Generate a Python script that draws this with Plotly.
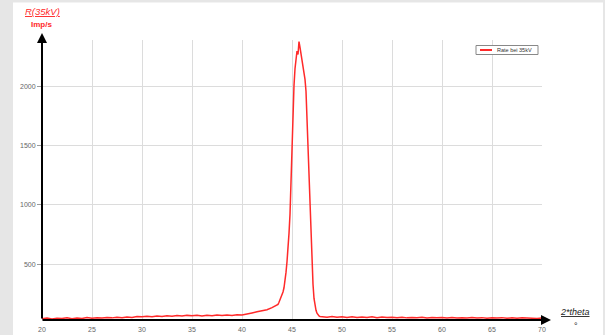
import plotly.graph_objects as go

# ---- data ----
angle_left = [20.0, 20.5, 21.0, 21.5, 22.0, 22.5, 23.0, 23.5, 24.0, 24.5, 25.0, 25.5,
              26.0, 26.5, 27.0, 27.5, 28.0, 28.5, 29.0, 29.5, 30.0, 30.5, 31.0, 31.5,
              32.0, 32.5, 33.0, 33.5, 34.0, 34.5, 35.0, 35.5, 36.0, 36.5, 37.0, 37.5,
              38.0, 38.5, 39.0, 39.5, 40.0, 40.5, 41.0, 41.5, 42.0, 42.5, 43.0, 43.5]
rate_left = [38, 44, 36, 42, 40, 46, 39, 45, 41, 48, 43, 47,
             44, 50, 46, 52, 48, 54, 50, 57, 55, 60, 56, 62,
             58, 64, 60, 66, 61, 67, 63, 68, 62, 69, 64, 70,
             66, 71, 67, 72, 70, 82, 88, 97, 104, 115, 132, 150]

angle_peak = [43.6, 43.7, 43.8, 43.9, 44.0, 44.1, 44.2, 44.3, 44.4, 44.5, 44.6, 44.7,
              44.8, 44.9, 45.0, 45.1, 45.2, 45.3, 45.4, 45.5, 45.6, 45.7, 45.8, 45.9,
              46.0, 46.1, 46.2, 46.3, 46.4, 46.5, 46.6, 46.7, 46.8, 46.9, 47.0, 47.1,
              47.2, 47.3, 47.4, 47.5, 47.6, 47.7, 47.8]
rate_peak = [160, 178, 200, 215, 240, 265, 300, 350, 430, 520, 620, 760,
             920, 1180, 1550, 1850, 2010, 2150, 2260, 2300, 2270, 2380, 2330, 2270,
             2220, 2180, 2130, 2060, 1960, 1700, 1440, 1240, 1020, 820, 560, 330,
             210, 150, 110, 85, 70, 62, 58]

angle_right = [48.0, 48.5, 49.0, 49.5, 50.0, 50.5, 51.0, 51.5, 52.0, 52.5, 53.0, 53.5,
               54.0, 54.5, 55.0, 55.5, 56.0, 56.5, 57.0, 57.5, 58.0, 58.5, 59.0, 59.5,
               60.0, 60.5, 61.0, 61.5, 62.0, 62.5, 63.0, 63.5, 64.0, 64.5, 65.0, 65.5,
               66.0, 66.5, 67.0, 67.5, 68.0, 68.5, 69.0, 69.5, 70.0]
rate_right = [56, 52, 58, 51, 56, 50, 55, 49, 54, 50, 55, 48,
              53, 49, 52, 47, 51, 46, 50, 47, 51, 45, 49, 46,
              50, 44, 49, 45, 48, 44, 49, 45, 48, 43, 47, 44,
              48, 43, 46, 42, 46, 43, 45, 41, 44]

x_ticks = [20, 25, 30, 35, 40, 45, 50, 55, 60, 65, 70]
y_ticks = [500, 1000, 1500, 2000]
series_name = "Rate bei 35kV"

angles = angle_left + angle_peak + angle_right
rates = rate_left + rate_peak + rate_right

RED = "#ff2a2a"
FONT = "Liberation Sans, Arial, sans-serif"

# plot-area geometry in pixels
L, T, W, H = 42, 40, 500, 280
def px(x):
    return (x - L) / W
def py(y):
    return (T + H - y) / H

fig = go.Figure()
fig.add_trace(go.Scatter(x=angles, y=rates, mode="lines", name=series_name,
                         line=dict(color=RED, width=1.5), showlegend=False,
                         hoverinfo="skip"))

fig.update_layout(
    width=605, height=335,
    margin=dict(l=L, r=605 - L - W, t=T, b=335 - T - H, autoexpand=False),
    paper_bgcolor="#e6e6e6",
    plot_bgcolor="white",
    font=dict(family=FONT, size=7, color="#666"),
    xaxis=dict(range=[20, 70], tickvals=x_ticks, ticks="", showline=False,
               zeroline=False, showgrid=True, gridcolor="#dcdcdc", gridwidth=1,
               tickfont=dict(size=7, color="#666"), ticklabelstandoff=4,
               automargin=False),
    yaxis=dict(range=[28, 2393], tickvals=y_ticks, ticks="outside", ticklen=4,
               tickcolor="#999", showline=False, zeroline=False, showgrid=True,
               gridcolor="#dcdcdc", gridwidth=1,
               tickfont=dict(size=7, color="#666"), automargin=False),
)

shapes = [
    # white panel
    dict(type="rect", xref="paper", yref="paper", layer="below",
         x0=px(13), x1=px(603), y0=py(336), y1=py(2.5),
         fillcolor="white", line=dict(width=0)),
    # legend box
    dict(type="rect", xref="paper", yref="paper",
         x0=px(476), x1=px(538), y0=py(54.5), y1=py(45.5),
         fillcolor="white", line=dict(color="#888", width=1)),
    dict(type="line", xref="paper", yref="paper",
         x0=px(480), x1=px(492), y0=py(50), y1=py(50),
         line=dict(color=RED, width=2)),
]
fig.update_layout(shapes=shapes)

annotations = [
    # y axis with arrow
    dict(xref="paper", yref="paper", x=px(42), y=py(33), ax=0, ay=287,
         text="", showarrow=True, arrowhead=2, arrowsize=1, arrowwidth=2,
         arrowcolor="black"),
    # x axis with arrow
    dict(xref="paper", yref="paper", x=px(551), y=py(320), ax=-510, ay=0,
         text="", showarrow=True, arrowhead=2, arrowsize=1, arrowwidth=2,
         arrowcolor="black"),
    dict(xref="paper", yref="paper", x=px(42), y=py(12), text="<i><u>R(35kV)</u></i>",
         showarrow=False, font=dict(size=9.5, color=RED, family=FONT),
         xanchor="center", yanchor="middle"),
    dict(xref="paper", yref="paper", x=px(41), y=py(25), text="<b>Imp/s</b>",
         showarrow=False, font=dict(size=8, color=RED, family=FONT),
         xanchor="center", yanchor="middle"),
    dict(xref="paper", yref="paper", x=px(575), y=py(312), text="<i><u>2*theta</u></i>",
         showarrow=False, font=dict(size=9, color="#222", family=FONT),
         xanchor="center", yanchor="middle"),
    dict(xref="paper", yref="paper", x=px(576), y=py(326), text="°",
         showarrow=False, font=dict(size=9, color="#222", family=FONT),
         xanchor="center", yanchor="middle"),
    dict(xref="paper", yref="paper", x=px(495), y=py(50), text=series_name,
         showarrow=False, font=dict(size=5.5, color="#333", family=FONT),
         xanchor="left", yanchor="middle"),
]
fig.update_layout(annotations=annotations)

fig.write_html(
    "out.html",
    config={"displayModeBar": False, "staticPlot": True},
    post_script="document.body.style.margin='0';document.body.style.padding='0';"
                "document.body.style.overflow='hidden';",
)
